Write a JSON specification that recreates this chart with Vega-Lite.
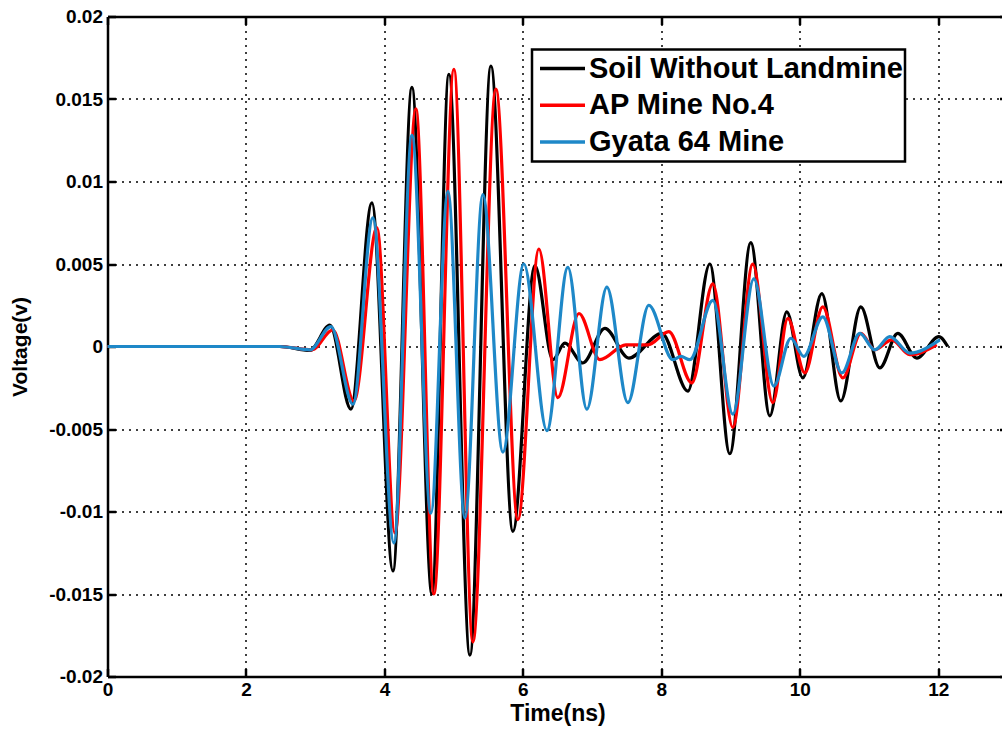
{
  "$schema": "https://vega.github.io/schema/vega-lite/v6.json",
  "width": 900,
  "height": 660,
  "autosize": {"type": "none"},
  "padding": {"left": 107.5, "top": 16.5, "right": -5.5, "bottom": 54.5},
  "background": "white",
  "config": {"view": {"stroke": null}, "font": "Liberation Sans", "legend": {"strokeWidth": 2.5}},
  "data": {"values": [
    {"s": "Soil Without Landmine", "t": 0, "v": 0},
    {"s": "Soil Without Landmine", "t": 2.49, "v": 0},
    {"s": "Soil Without Landmine", "t": 2.924, "v": -0.00024},
    {"s": "Soil Without Landmine", "t": 3.213, "v": 0.0013},
    {"s": "Soil Without Landmine", "t": 3.516, "v": -0.0038},
    {"s": "Soil Without Landmine", "t": 3.819, "v": 0.0087},
    {"s": "Soil Without Landmine", "t": 4.123, "v": -0.0136},
    {"s": "Soil Without Landmine", "t": 4.397, "v": 0.0157},
    {"s": "Soil Without Landmine", "t": 4.686, "v": -0.015},
    {"s": "Soil Without Landmine", "t": 4.931, "v": 0.0165},
    {"s": "Soil Without Landmine", "t": 5.235, "v": -0.0187},
    {"s": "Soil Without Landmine", "t": 5.538, "v": 0.017},
    {"s": "Soil Without Landmine", "t": 5.856, "v": -0.0112},
    {"s": "Soil Without Landmine", "t": 6.173, "v": 0.0049},
    {"s": "Soil Without Landmine", "t": 6.433, "v": -0.0008},
    {"s": "Soil Without Landmine", "t": 6.606, "v": 0.0002},
    {"s": "Soil Without Landmine", "t": 6.866, "v": -0.001},
    {"s": "Soil Without Landmine", "t": 7.184, "v": 0.0011},
    {"s": "Soil Without Landmine", "t": 7.531, "v": -0.0007},
    {"s": "Soil Without Landmine", "t": 8.007, "v": 0.0008},
    {"s": "Soil Without Landmine", "t": 8.383, "v": -0.0027},
    {"s": "Soil Without Landmine", "t": 8.7, "v": 0.005},
    {"s": "Soil Without Landmine", "t": 8.989, "v": -0.0065},
    {"s": "Soil Without Landmine", "t": 9.292, "v": 0.0063},
    {"s": "Soil Without Landmine", "t": 9.567, "v": -0.0042},
    {"s": "Soil Without Landmine", "t": 9.812, "v": 0.0021},
    {"s": "Soil Without Landmine", "t": 10.043, "v": -0.0019},
    {"s": "Soil Without Landmine", "t": 10.318, "v": 0.0032},
    {"s": "Soil Without Landmine", "t": 10.592, "v": -0.0033},
    {"s": "Soil Without Landmine", "t": 10.881, "v": 0.0024},
    {"s": "Soil Without Landmine", "t": 11.155, "v": -0.0013},
    {"s": "Soil Without Landmine", "t": 11.415, "v": 0.0008},
    {"s": "Soil Without Landmine", "t": 11.69, "v": -0.0007},
    {"s": "Soil Without Landmine", "t": 12.007, "v": 0.0006},
    {"s": "Soil Without Landmine", "t": 12.137, "v": 0},
    {"s": "AP Mine No.4", "t": 0, "v": 0},
    {"s": "AP Mine No.4", "t": 2.49, "v": 0},
    {"s": "AP Mine No.4", "t": 2.953, "v": -0.0002},
    {"s": "AP Mine No.4", "t": 3.256, "v": 0.001},
    {"s": "AP Mine No.4", "t": 3.56, "v": -0.0033},
    {"s": "AP Mine No.4", "t": 3.892, "v": 0.0072},
    {"s": "AP Mine No.4", "t": 4.152, "v": -0.0113},
    {"s": "AP Mine No.4", "t": 4.455, "v": 0.0144},
    {"s": "AP Mine No.4", "t": 4.715, "v": -0.015},
    {"s": "AP Mine No.4", "t": 5.004, "v": 0.0168},
    {"s": "AP Mine No.4", "t": 5.278, "v": -0.0179},
    {"s": "AP Mine No.4", "t": 5.61, "v": 0.0156},
    {"s": "AP Mine No.4", "t": 5.928, "v": -0.0105},
    {"s": "AP Mine No.4", "t": 6.231, "v": 0.0059},
    {"s": "AP Mine No.4", "t": 6.505, "v": -0.0031},
    {"s": "AP Mine No.4", "t": 6.809, "v": 0.002},
    {"s": "AP Mine No.4", "t": 7.112, "v": -0.0008},
    {"s": "AP Mine No.4", "t": 7.487, "v": 0.0001},
    {"s": "AP Mine No.4", "t": 7.805, "v": 0.0001},
    {"s": "AP Mine No.4", "t": 8.108, "v": 0.0009},
    {"s": "AP Mine No.4", "t": 8.44, "v": -0.0022},
    {"s": "AP Mine No.4", "t": 8.744, "v": 0.0038},
    {"s": "AP Mine No.4", "t": 9.032, "v": -0.0049},
    {"s": "AP Mine No.4", "t": 9.321, "v": 0.005},
    {"s": "AP Mine No.4", "t": 9.61, "v": -0.0034},
    {"s": "AP Mine No.4", "t": 9.827, "v": 0.0017},
    {"s": "AP Mine No.4", "t": 10.072, "v": -0.0016},
    {"s": "AP Mine No.4", "t": 10.332, "v": 0.0024},
    {"s": "AP Mine No.4", "t": 10.621, "v": -0.0019},
    {"s": "AP Mine No.4", "t": 10.881, "v": 0.0008},
    {"s": "AP Mine No.4", "t": 11.083, "v": -0.0002},
    {"s": "AP Mine No.4", "t": 11.329, "v": 0.0004},
    {"s": "AP Mine No.4", "t": 11.588, "v": -0.0005},
    {"s": "AP Mine No.4", "t": 11.978, "v": 0.0001},
    {"s": "Gyata 64 Mine", "t": 0, "v": 0},
    {"s": "Gyata 64 Mine", "t": 2.49, "v": 0},
    {"s": "Gyata 64 Mine", "t": 2.924, "v": -0.0002},
    {"s": "Gyata 64 Mine", "t": 3.227, "v": 0.0012},
    {"s": "Gyata 64 Mine", "t": 3.545, "v": -0.0035},
    {"s": "Gyata 64 Mine", "t": 3.834, "v": 0.0078},
    {"s": "Gyata 64 Mine", "t": 4.137, "v": -0.0119},
    {"s": "Gyata 64 Mine", "t": 4.397, "v": 0.0128},
    {"s": "Gyata 64 Mine", "t": 4.671, "v": -0.0101},
    {"s": "Gyata 64 Mine", "t": 4.917, "v": 0.0094},
    {"s": "Gyata 64 Mine", "t": 5.162, "v": -0.0104},
    {"s": "Gyata 64 Mine", "t": 5.422, "v": 0.0092},
    {"s": "Gyata 64 Mine", "t": 5.711, "v": -0.0064},
    {"s": "Gyata 64 Mine", "t": 6.014, "v": 0.005},
    {"s": "Gyata 64 Mine", "t": 6.347, "v": -0.0051},
    {"s": "Gyata 64 Mine", "t": 6.65, "v": 0.0048},
    {"s": "Gyata 64 Mine", "t": 6.924, "v": -0.0038},
    {"s": "Gyata 64 Mine", "t": 7.213, "v": 0.0036},
    {"s": "Gyata 64 Mine", "t": 7.516, "v": -0.0034},
    {"s": "Gyata 64 Mine", "t": 7.819, "v": 0.0025},
    {"s": "Gyata 64 Mine", "t": 8.166, "v": -0.0008},
    {"s": "Gyata 64 Mine", "t": 8.282, "v": -0.0006},
    {"s": "Gyata 64 Mine", "t": 8.412, "v": -0.0008},
    {"s": "Gyata 64 Mine", "t": 8.744, "v": 0.0028},
    {"s": "Gyata 64 Mine", "t": 9.032, "v": -0.0041},
    {"s": "Gyata 64 Mine", "t": 9.336, "v": 0.0041},
    {"s": "Gyata 64 Mine", "t": 9.625, "v": -0.0024},
    {"s": "Gyata 64 Mine", "t": 9.87, "v": 0.0005},
    {"s": "Gyata 64 Mine", "t": 10.058, "v": -0.0006},
    {"s": "Gyata 64 Mine", "t": 10.332, "v": 0.0018},
    {"s": "Gyata 64 Mine", "t": 10.607, "v": -0.0016},
    {"s": "Gyata 64 Mine", "t": 10.866, "v": 0.0008},
    {"s": "Gyata 64 Mine", "t": 11.083, "v": -0.0002},
    {"s": "Gyata 64 Mine", "t": 11.3, "v": 0.0006},
    {"s": "Gyata 64 Mine", "t": 11.588, "v": -0.0004},
    {"s": "Gyata 64 Mine", "t": 12.022, "v": 0.0004}
  ]},
  "layer": [
    {
      "mark": {"type": "line", "interpolate": "monotone", "strokeWidth": 3.2},
      "encoding": {
        "x": {
          "field": "t", "type": "quantitative",
          "scale": {"domain": [0, 13], "nice": false, "zero": false},
          "axis": {
            "values": [0, 2, 4, 6, 8, 10, 12], "title": "Time(ns)", "labelFlush": false,
            "grid": true, "gridDash": [2, 5], "gridColor": "black", "gridWidth": 1.5, "gridOpacity": 1,
            "domainColor": "black", "domainWidth": 2.5, "tickColor": "black", "tickWidth": 2.5, "tickSize": -8,
            "labelPadding": 12, "labelFont": "Liberation Sans", "labelFontSize": 19, "labelFontWeight": "bold", "labelColor": "black",
            "titleFont": "Liberation Sans", "titleFontSize": 23, "titleFontWeight": "bold", "titleColor": "black", "titlePadding": 3
          }
        },
        "y": {
          "field": "v", "type": "quantitative",
          "scale": {"domain": [-0.02, 0.02], "nice": false},
          "axis": {
            "values": [-0.02, -0.015, -0.01, -0.005, 0, 0.005, 0.01, 0.015, 0.02], "title": "Voltage(v)",
            "labelExpr": "datum.value < 0 ? '-' + format(-datum.value, '~g') : format(datum.value, '~g')",
            "grid": true, "gridDash": [2, 5], "gridColor": "black", "gridWidth": 1.5, "gridOpacity": 1,
            "domainColor": "black", "domainWidth": 2.5, "tickColor": "black", "tickWidth": 2.5, "tickSize": -8,
            "labelPadding": 13, "labelFont": "Liberation Sans", "labelFontSize": 19, "labelFontWeight": "bold", "labelColor": "black",
            "titleFont": "Liberation Sans", "titleFontSize": 21, "titleFontWeight": "bold", "titleColor": "black", "titlePadding": 18
          }
        },
        "color": {
          "field": "s", "type": "nominal",
          "scale": {"domain": ["Soil Without Landmine", "AP Mine No.4", "Gyata 64 Mine"], "range": ["#000000", "#ff0000", "#1e88c8"]},
          "legend": {
            "title": null, "orient": "none", "legendX": 424.5, "legendY": 33,
            "fillColor": "white", "strokeColor": "black", "padding": 2,
            "symbolType": "stroke", "symbolSize": 2025, "symbolStrokeWidth": 3.5, "symbolOffset": 4, "labelOffset": 2,
            "clipHeight": 34, "rowPadding": 2.7,
            "labelFont": "Liberation Sans", "labelFontSize": 29, "labelFontWeight": "bold", "labelColor": "black",
            "labelLimit": 500
          }
        }
      }
    },
    {
      "mark": {"type": "point", "opacity": 0},
      "encoding": {
        "x": {"field": "t", "type": "quantitative",
          "axis": {"orient": "top", "values": [0, 2, 4, 6, 8, 10, 12], "labels": false, "title": null, "grid": false,
            "domainColor": "black", "domainWidth": 2.5, "tickColor": "black", "tickWidth": 2.5, "tickSize": -8}},
        "y": {"field": "v", "type": "quantitative",
          "axis": {"orient": "right", "values": [-0.02, -0.015, -0.01, -0.005, 0, 0.005, 0.01, 0.015, 0.02], "labels": false, "title": null, "grid": false,
            "domainColor": "black", "domainWidth": 2.5, "tickColor": "black", "tickWidth": 2.5, "tickSize": -8}}
      }
    }
  ],
  "resolve": {"axis": {"x": "independent", "y": "independent"}}
}
